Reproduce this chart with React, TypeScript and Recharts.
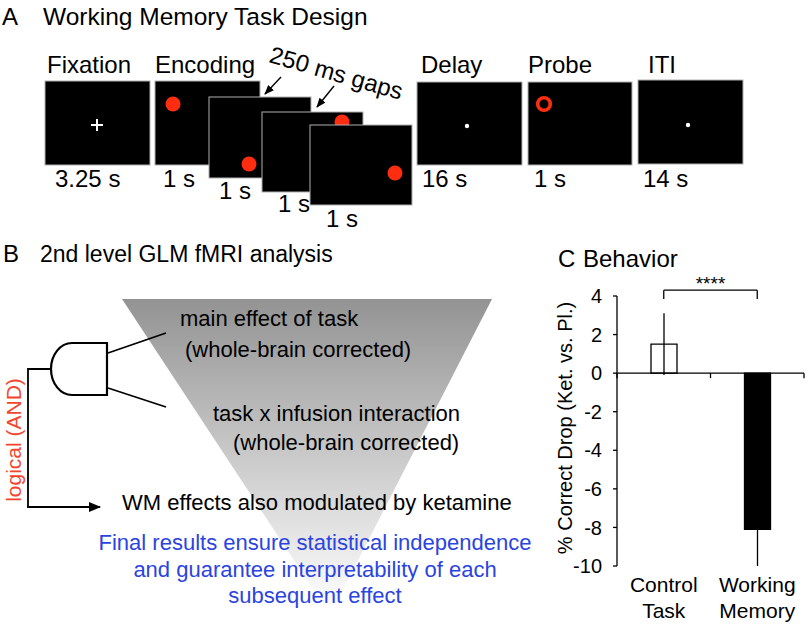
import React from 'react';
import { BarChart, Bar, Cell, XAxis, YAxis, ErrorBar, ReferenceLine } from 'recharts';

const FONT = '"Liberation Sans", Arial, Helvetica, sans-serif';
const RED = '#ff2d0f';

// panel C data
const categories = ['Control Task', 'Working Memory'];
const correctDrop = [1.5, -8.1];
const sem = [1.6, 1.9];
const barFills = ['#ffffff', '#000000'];
const yTicks = [4, 2, 0, -2, -4, -6, -8, -10];
const sigLabel = '****';
const bracketTop = 4.3;
const bracketLeg = 3.85;

const behaviorData = categories.map((name, i) => ({ name, value: correctDrop[i], err: sem[i] }));

const ZeroLine = (props: any) => {
  const { x1, y1, x2 } = props;
  const mid = (x1 + x2) / 2;
  return (
    <g stroke="#000" strokeWidth={1.3}>
      <line x1={x1} y1={y1} x2={x2} y2={y1} />
      {[x1, mid, x2].map((x: number, i: number) => (
        <line key={i} x1={x} y1={y1} x2={x} y2={y1 + 5} />
      ))}
    </g>
  );
};

const CategoryTick = ({ x, y, payload }: any) => {
  const lines = String(payload.value).split(' ');
  return (
    <text x={x} y={y} textAnchor="middle" fontSize={21} fontFamily={FONT} fill="#000">
      {lines.map((l, i) => (
        <tspan key={i} x={x} dy={26}>{l}</tspan>
      ))}
    </text>
  );
};

const YLabel = ({ viewBox }: any) => {
  const cx = viewBox.x + 20;
  const cy = viewBox.y + viewBox.height / 2 - 3;
  return (
    <text x={cx} y={cy} transform={`rotate(-90, ${cx}, ${cy})`} textAnchor="middle"
      dominantBaseline="central" fontSize={20} fontFamily={FONT} fill="#000">
      % Correct Drop (Ket. vs. Pl.)
    </text>
  );
};

function Behavior() {
  return (
    <BarChart width={262} height={362} data={behaviorData}
      margin={{ top: 34, right: 3, bottom: 0, left: 0 }} barCategoryGap={0}>
      <XAxis dataKey="name" axisLine={false} tickLine={false} tickSize={0} tickMargin={0}
        height={58} tick={<CategoryTick />} interval={0} />
      <YAxis domain={[-10, 4]} ticks={yTicks} width={72} tickSize={4} tickMargin={11}
        axisLine={{ stroke: '#000', strokeWidth: 1.3 }} tickLine={{ stroke: '#000', strokeWidth: 1.3 }}
        tick={{ fill: '#000', fontSize: 20, fontFamily: FONT }} label={<YLabel />} />
      <ReferenceLine y={0} shape={<ZeroLine />} />
      <Bar dataKey="value" barSize={26} stroke="#000" strokeWidth={1.3} isAnimationActive={false}>
        {behaviorData.map((d, i) => (
          <Cell key={d.name} fill={barFills[i]} />
        ))}
        <ErrorBar dataKey="err" width={0} stroke="#000" strokeWidth={1.3} direction="y" isAnimationActive={false} />
      </Bar>
      <ReferenceLine ifOverflow="visible" stroke="#000" strokeWidth={1.3}
        segment={[{ x: categories[0], y: bracketTop }, { x: categories[1], y: bracketTop }]}
        label={{ value: sigLabel, position: 'top', fill: '#000', fontSize: 19, fontFamily: FONT, offset: 0 }} />
      <ReferenceLine ifOverflow="visible" stroke="#000" strokeWidth={1.3}
        segment={[{ x: categories[0], y: bracketTop }, { x: categories[0], y: bracketLeg }]} />
      <ReferenceLine ifOverflow="visible" stroke="#000" strokeWidth={1.3}
        segment={[{ x: categories[1], y: bracketTop }, { x: categories[1], y: bracketLeg }]} />
    </BarChart>
  );
}

const Screen = ({ x, y, w, h }: { x: number; y: number; w: number; h: number }) => (
  <rect x={x} y={y} width={w} height={h} fill="#000" stroke="#b0b0b0" strokeWidth={1} />
);

function Diagram() {
  const t = { fontFamily: FONT, fill: '#000' } as const;
  return (
    <svg width={807} height={624} style={{ position: 'absolute', left: 0, top: 0 }}>
      <defs>
        <linearGradient id="tri" x1="0" y1="299" x2="0" y2="610" gradientUnits="userSpaceOnUse">
          <stop offset="0" stopColor="#939393" />
          <stop offset="1" stopColor="#ffffff" />
        </linearGradient>
        <marker id="ah" viewBox="0 0 10 10" refX="9" refY="5" markerWidth="7" markerHeight="7" orient="auto">
          <path d="M0 1 L10 5 L0 9 Z" fill="#000" />
        </marker>
      </defs>

      {/* panel A */}
      <text x={2} y={25} fontSize={24} {...t}>A</text>
      <text x={43} y={25} fontSize={24.5} {...t}>Working Memory Task Design</text>
      <g fontSize={24} {...t}>
        <text x={47} y={73}>Fixation</text>
        <text x={155} y={73}>Encoding</text>
        <text x={421} y={73}>Delay</text>
        <text x={528} y={73}>Probe</text>
        <text x={648} y={73}>ITI</text>
        <text x={55} y={187}>3.25 s</text>
        <text x={163} y={187}>1 s</text>
        <text x={219} y={199}>1 s</text>
        <text x={278} y={212}>1 s</text>
        <text x={326} y={227}>1 s</text>
        <text x={422} y={187}>16 s</text>
        <text x={534} y={187}>1 s</text>
        <text x={643} y={187}>14 s</text>
      </g>
      <text x={268} y={62} fontSize={24} transform="rotate(16 268 62)" {...t}>250 ms gaps</text>
      <line x1={281} y1={77} x2={265} y2={94} stroke="#000" strokeWidth={1.4} markerEnd="url(#ah)" />
      <line x1={334} y1={86} x2={317} y2={107} stroke="#000" strokeWidth={1.4} markerEnd="url(#ah)" />

      <Screen x={45} y={81} w={105} h={84} />
      <line x1={91} y1={125} x2={103} y2={125} stroke="#fff" strokeWidth={2} />
      <line x1={97} y1={119} x2={97} y2={131} stroke="#fff" strokeWidth={2} />
      <Screen x={155} y={81} w={105} h={84} />
      <circle cx={173} cy={104} r={7.5} fill={RED} />
      <Screen x={209} y={97} w={102} h={81} />
      <circle cx={249} cy={164} r={7.5} fill={RED} />
      <Screen x={262} y={112} w={101} h={80} />
      <circle cx={342} cy={122} r={7.5} fill={RED} />
      <Screen x={310} y={125} w={102} h={80} />
      <circle cx={395} cy={173} r={7.5} fill={RED} />
      <Screen x={417} y={82} w={105} h={83} />
      <circle cx={467} cy={126} r={2.2} fill="#fff" />
      <Screen x={528} y={82} w={104} h={83} />
      <circle cx={544} cy={104} r={6.3} fill="none" stroke={RED} strokeWidth={3.6} />
      <Screen x={638} y={80} w={105} h={84} />
      <circle cx={688} cy={125} r={2.2} fill="#fff" />

      {/* panel B */}
      <text x={3} y={262} fontSize={24} {...t}>B</text>
      <text x={40} y={262} fontSize={23} {...t}>2nd level GLM fMRI analysis</text>
      <polygon points="122,299 492,299 330,615" fill="url(#tri)" />
      <g fontSize={22} {...t}>
        <text x={180} y={326}>main effect of task</text>
        <text x={185} y={357}>(whole-brain corrected)</text>
        <text x={213} y={421}>task x infusion interaction</text>
        <text x={233} y={450}>(whole-brain corrected)</text>
        <text x={122} y={510}>WM effects also modulated by ketamine</text>
      </g>
      <g fontSize={22} fontFamily={FONT} fill="#2b44e0" textAnchor="middle">
        <text x={315} y={550}>Final results ensure statistical independence</text>
        <text x={315} y={577}>and guarantee interpretability of each</text>
        <text x={315} y={603}>subsequent effect</text>
      </g>
      <path d="M72 343 H107 V395 H72 A21 26 0 0 1 72 343 Z" fill="#fff" stroke="#000" strokeWidth={2.2} />
      <line x1={108} y1={353} x2={166} y2={333} stroke="#000" strokeWidth={1.8} />
      <line x1={108} y1={388} x2={166} y2={407} stroke="#000" strokeWidth={1.8} />
      <polyline points="51,369 28,369 28,507 100,507" fill="none" stroke="#000" strokeWidth={1.8} markerEnd="url(#ah)" />
      <text x={13} y={440} fontSize={21} fontFamily={FONT} fill="#f2462e" textAnchor="middle"
        dominantBaseline="central" transform="rotate(-90 13 440)">logical (AND)</text>

      {/* panel C header */}
      <text x={558} y={267} fontSize={24} {...t}>C</text>
      <text x={583} y={267} fontSize={24} {...t}>Behavior</text>
    </svg>
  );
}

export default function App() {
  return (
    <div style={{ position: 'fixed', left: 0, top: 0, width: 807, height: 624, background: '#fff', overflow: 'hidden' }}>
      <Diagram />
      <div style={{ position: 'absolute', left: 545, top: 262 }}>
        <Behavior />
      </div>
    </div>
  );
}
